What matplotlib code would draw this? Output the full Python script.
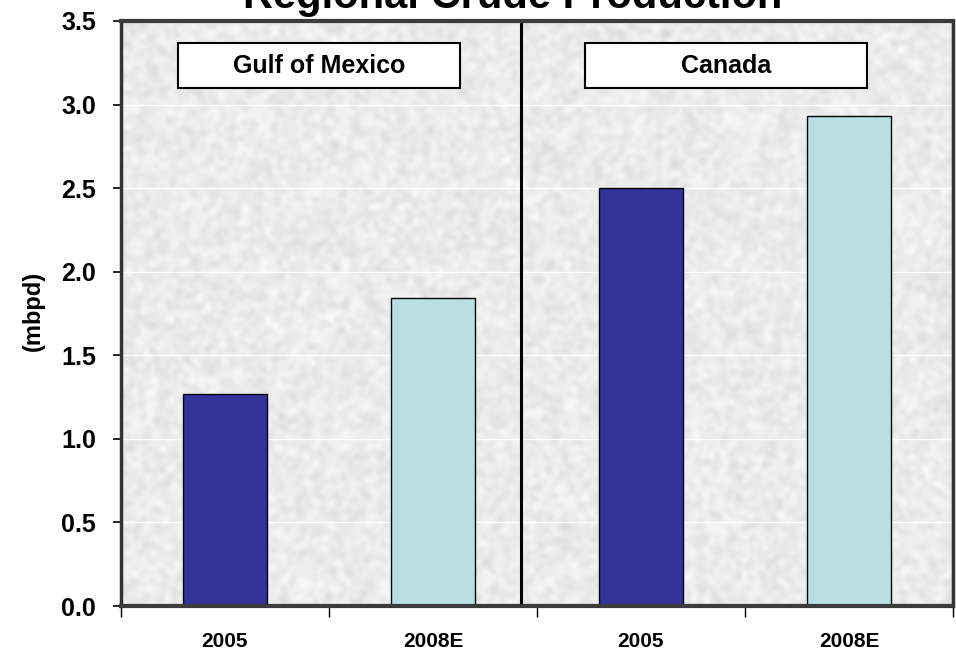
import numpy as np
import matplotlib
matplotlib.use("Agg")
import matplotlib.pyplot as plt
from matplotlib.patches import Rectangle

plt.rcParams['font.family'] = ['Liberation Sans', 'DejaVu Sans']

# ---- data ----
categories = ["2005", "2008E", "2005", "2008E"]
values = [1.27, 1.84, 2.50, 2.93]
bar_colors = ["#333399", "#b8e0e4", "#333399", "#b8e0e4"]
regions = ["Gulf of Mexico", "Canada"]
title = "Regional Crude Production"
ylabel = "(mbpd)"
yticks = [0.0, 0.5, 1.0, 1.5, 2.0, 2.5, 3.0, 3.5]

fig = plt.figure(figsize=(9.56, 6.53), dpi=100)
ax = fig.add_axes([121/956, 1-606/653, 832/956, 585/653])

# textured grey background (decorative)
rng = np.random.default_rng(3)
noise = rng.random((300, 420))
k = np.ones(3) / 3
for _ in range(2):
    noise = np.apply_along_axis(lambda r: np.convolve(r, k, mode='same'), 1, noise)
    noise = np.apply_along_axis(lambda c: np.convolve(c, k, mode='same'), 0, noise)
noise = (noise - noise.min()) / (noise.max() - noise.min())
tex = 0.82 + 0.17 * noise
ax.imshow(tex, cmap='gray', vmin=0, vmax=1, extent=[0, 1, 0, 1],
          transform=ax.transAxes, aspect='auto', zorder=0, interpolation='bilinear')

x = np.arange(len(categories))
ax.set_xlim(-0.5, len(categories) - 0.5)
ax.set_ylim(0, 3.5)

for yv in yticks[1:-1]:
    ax.axhline(yv, color='white', lw=1.0, zorder=1)

ax.bar(x, values, width=0.40, color=bar_colors, edgecolor='black', linewidth=1.0, zorder=3)

ax.axvline(1.425, color='black', lw=2.2, zorder=4)

# region label boxes
for (x0, x1), name in zip([(0.0685, 0.4075), (0.5577, 0.8966)], regions):
    ax.add_patch(Rectangle((x0, 0.885), x1 - x0, 0.077, transform=ax.transAxes,
                           facecolor='white', edgecolor='black', lw=1.5, zorder=5))
    ax.text((x0 + x1) / 2, 0.885 + 0.0385, name, transform=ax.transAxes,
            ha='center', va='center', fontsize=18, fontweight='bold', zorder=6)

# spines
for s in ['top', 'bottom']:
    ax.spines[s].set_color('#3c3c3c')
    ax.spines[s].set_linewidth(3.0)
ax.spines['left'].set_color('#333333')
ax.spines['left'].set_linewidth(2.5)
ax.spines['right'].set_color('#333333')
ax.spines['right'].set_linewidth(2.5)
for s in ax.spines.values():
    s.set_zorder(7)

ax.set_yticks(yticks)
ax.set_yticklabels([f"{v:.1f}" for v in yticks], fontsize=18, fontweight='bold')
ax.tick_params(axis='y', length=6, width=1.2, pad=12, direction='out')

ax.set_xticks(x)
ax.set_xticklabels(categories, fontsize=15, fontweight='bold')
ax.set_xticks(np.arange(-0.5, len(categories)), minor=True)
ax.tick_params(axis='x', which='major', length=0, pad=19)
ax.tick_params(axis='x', which='minor', length=8, width=1.0, direction='out')

ax.set_ylabel(ylabel, fontsize=17, fontweight='bold')
ax.yaxis.set_label_coords(-0.091, 0.505)

fig.text(513/956, 1 - 8/653, title, ha='center', va='baseline',
         fontsize=30, fontweight='bold')

fig.savefig("out.png", dpi=100)
